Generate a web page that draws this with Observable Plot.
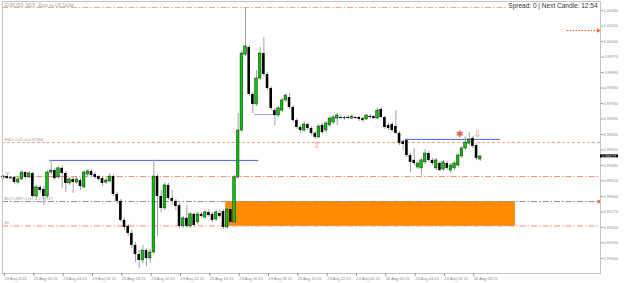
<!DOCTYPE html>
<html><head><meta charset="utf-8">
<script src="https://cdn.jsdelivr.net/npm/d3@7"></script>
<script src="https://cdn.jsdelivr.net/npm/@observablehq/plot@0.6"></script>
<style>
html,body{margin:0;padding:0;background:#fff;}
#chart svg{display:block;}
</style></head><body><div id="chart"></div>
<script>
// ---- Data (EURUSD M15 candles, index 0 = 23 Aug 00:15) ----
const open = [0.99426,0.99430,0.99421,0.99426,0.99403,0.99417,0.99448,0.99426,0.99444,0.99340,
0.99381,0.99372,0.99340,0.99448,0.99457,0.99426,0.99467,0.99444,0.99399,0.99417,
0.99403,0.99412,0.99381,0.99439,0.99453,0.99439,0.99430,0.99421,0.99403,0.99408,
0.99430,0.99349,0.99318,0.99232,0.99205,0.99173,0.99119,0.99078,0.99051,0.99096,
0.99060,0.99087,0.99430,0.99340,0.99286,0.99390,0.99331,0.99318,0.99299,0.99205,
0.99241,0.99205,0.99259,0.99223,0.99259,0.99245,0.99268,0.99259,0.99236,0.99263,
0.99272,0.99200,0.99281,0.99223,0.99426,0.99638,0.99981,1.00013,0.99801,0.99756,
0.99873,0.99986,0.99891,0.99828,0.99728,0.99706,0.99728,0.99774,0.99787,0.99742,
0.99683,0.99652,0.99638,0.99665,0.99647,0.99625,0.99607,0.99661,0.99638,0.99661,
0.99674,0.99692,0.99697,0.99697,0.99697,0.99692,0.99697,0.99697,0.99692,0.99688,
0.99701,0.99701,0.99692,0.99733,0.99697,0.99661,0.99665,0.99656,0.99625,0.99588,
0.99593,0.99525,0.99503,0.99471,0.99467,0.99494,0.99534,0.99503,0.99467,0.99489,
0.99462,0.99489,0.99457,0.99467,0.99480,0.99521,0.99557,0.99579,0.99602,0.99570,
0.99507];
const high = [0.99435,0.99439,0.99430,0.99430,0.99426,0.99457,0.99453,0.99453,0.99448,0.99390,
0.99390,0.99385,0.99457,0.99503,0.99467,0.99476,0.99476,0.99453,0.99426,0.99426,
0.99426,0.99421,0.99457,0.99462,0.99462,0.99448,0.99435,0.99426,0.99421,0.99444,
0.99439,0.99358,0.99327,0.99241,0.99214,0.99187,0.99132,0.99096,0.99119,0.99105,
0.99101,0.99503,0.99439,0.99367,0.99403,0.99399,0.99367,0.99327,0.99308,0.99250,
0.99299,0.99268,0.99268,0.99268,0.99268,0.99277,0.99281,0.99268,0.99277,0.99277,
0.99281,0.99290,0.99290,0.99435,0.99715,0.99999,1.00193,1.00022,0.99810,0.99909,
1.00013,1.00058,0.99900,0.99837,0.99738,0.99747,0.99783,0.99805,0.99805,0.99751,
0.99692,0.99661,0.99679,0.99674,0.99656,0.99634,0.99665,0.99670,0.99679,0.99701,
0.99706,0.99715,0.99706,0.99701,0.99706,0.99710,0.99701,0.99701,0.99697,0.99710,
0.99710,0.99706,0.99738,0.99742,0.99701,0.99670,0.99674,0.99728,0.99634,0.99597,
0.99602,0.99534,0.99557,0.99498,0.99512,0.99552,0.99543,0.99512,0.99512,0.99498,
0.99503,0.99498,0.99489,0.99498,0.99534,0.99566,0.99607,0.99629,0.99611,0.99579,
0.99525];
const low = [0.99417,0.99417,0.99417,0.99394,0.99394,0.99412,0.99417,0.99421,0.99331,0.99331,
0.99354,0.99299,0.99331,0.99435,0.99412,0.99417,0.99376,0.99358,0.99390,0.99354,
0.99394,0.99367,0.99376,0.99430,0.99426,0.99417,0.99408,0.99385,0.99394,0.99399,
0.99340,0.99304,0.99223,0.99187,0.99159,0.99105,0.99042,0.99015,0.99037,0.99024,
0.99037,0.99078,0.99159,0.99268,0.99277,0.99322,0.99299,0.99277,0.99196,0.99196,
0.99196,0.99196,0.99200,0.99214,0.99241,0.99236,0.99245,0.99223,0.99227,0.99241,
0.99191,0.99191,0.99209,0.99214,0.99417,0.99629,0.99972,0.99792,0.99715,0.99747,
0.99864,0.99882,0.99819,0.99728,0.99661,0.99697,0.99719,0.99765,0.99733,0.99674,
0.99643,0.99625,0.99629,0.99638,0.99616,0.99597,0.99602,0.99620,0.99629,0.99652,
0.99665,0.99661,0.99688,0.99683,0.99688,0.99688,0.99688,0.99679,0.99674,0.99683,
0.99692,0.99688,0.99688,0.99692,0.99643,0.99638,0.99629,0.99620,0.99570,0.99548,
0.99516,0.99448,0.99480,0.99462,0.99435,0.99485,0.99494,0.99480,0.99457,0.99453,
0.99453,0.99457,0.99444,0.99457,0.99471,0.99512,0.99548,0.99570,0.99557,0.99503,
0.99498];
const close = [0.99430,0.99421,0.99426,0.99403,0.99417,0.99448,0.99426,0.99444,0.99340,0.99381,
0.99367,0.99340,0.99448,0.99457,0.99421,0.99467,0.99444,0.99399,0.99417,0.99403,
0.99417,0.99385,0.99448,0.99453,0.99435,0.99426,0.99417,0.99399,0.99412,0.99430,
0.99349,0.99318,0.99232,0.99200,0.99173,0.99119,0.99078,0.99051,0.99096,0.99060,
0.99087,0.99430,0.99340,0.99286,0.99390,0.99331,0.99318,0.99295,0.99205,0.99241,
0.99205,0.99259,0.99209,0.99259,0.99250,0.99268,0.99254,0.99232,0.99268,0.99250,
0.99200,0.99281,0.99223,0.99426,0.99638,0.99986,1.00018,0.99801,0.99756,0.99873,
0.99986,0.99891,0.99828,0.99738,0.99706,0.99738,0.99774,0.99796,0.99742,0.99683,
0.99652,0.99638,0.99665,0.99647,0.99625,0.99607,0.99656,0.99629,0.99670,0.99692,
0.99697,0.99706,0.99697,0.99692,0.99697,0.99701,0.99697,0.99688,0.99683,0.99706,
0.99701,0.99692,0.99728,0.99697,0.99652,0.99647,0.99638,0.99625,0.99579,0.99575,
0.99525,0.99494,0.99489,0.99489,0.99503,0.99534,0.99503,0.99489,0.99503,0.99457,
0.99494,0.99467,0.99480,0.99489,0.99525,0.99557,0.99584,0.99597,0.99566,0.99512,
0.99521];

const timeTicks = [0,8,16,24,32,40,48,56,64,72,80,88,96,104,112,120,128];
const timeLabels = ["23 Aug 2022","23 Aug 02:15","23 Aug 04:15","23 Aug 06:15","23 Aug 08:15",
"23 Aug 10:15","23 Aug 12:15","23 Aug 14:15","23 Aug 16:15","23 Aug 18:15","23 Aug 20:15",
"23 Aug 22:15","24 Aug 00:15","24 Aug 02:15","24 Aug 04:15","24 Aug 06:15","24 Aug 08:15"];
const priceTicks = [1.00180,1.00110,1.00040,0.99970,0.99900,0.99830,0.99760,0.99690,0.99620,
0.99550,0.99480,0.99410,0.99340,0.99270,0.99200,0.99130,0.99060];

// horizontal levels
const dayHighLevel = 1.00194;
const sellLevel = 0.99584;
const tpLevel = 0.99430;
const buyLimitLevel = 0.99317;
const slLevel = 0.99207;
const alertLevel = 1.00090, alertFrom = 153.7, alertTo = 162.2;

const orderTexts = ["SELL 0.05 at 0.99584", "TP", "BUY LIMIT 0.05 at 0.99317", "SL"];
const orderPrices = [sellLevel, tpLevel, buyLimitLevel, slLevel];

// demand zone
const zoneFrom = 60.6, zoneTo = 139.6, zoneTop = 0.99317, zoneBottom = 0.99205;

// blue horizontal segments
const blueFrom = [12.6, 68.5, 109.6];
const blueTo = [69.6, 74.2, 135.5];
const bluePrice = [0.99503, 0.99710, 0.99598];

// markers
const markerGlyph = ["\u21E7", "\u21E9", "\u2731"];
const markerX = [85.5, 129.3, 124.4];
const markerPrice = [0.99570, 0.99624, 0.99620];

const titleText = "EURUSD, M15:  Euro vs US Dollar";
const spreadText = "Spread: 0 | Next Candle: 12:54";
const lastPrice = close[close.length - 1];

const xDomain = [-0.273, 162.8];
const yDomain = [0.98992, 1.00221];

const candles = open.map((o, i) => ({i, o, h: high[i], l: low[i], c: close[i]}));
const bulls = candles.filter(d => d.c > d.o);
const bears = candles.filter(d => d.c < d.o);
const dojis = candles.filter(d => d.c === d.o);
const blueSegs = bluePrice.map((p, k) => ({p, a: blueFrom[k], b: blueTo[k]}));
const markers = markerGlyph.map((g, k) => ({g, x: markerX[k], y: markerPrice[k]}));
const orders = orderTexts.map((t, k) => ({t, y: orderPrices[k]}));

const dashDot = "6,2,1.5,2";
const chart = Plot.plot({
  width: 625, height: 283,
  marginLeft: 2, marginRight: 25, marginTop: 1, marginBottom: 10,
  x: {type: "linear", domain: xDomain},
  y: {domain: yDomain},
  style: {fontFamily: "'Liberation Sans', Arial, sans-serif", background: "#fff", color: "#808080", overflow: "visible"},
  marks: [
    Plot.rect([0], {x1: () => zoneFrom, x2: () => zoneTo, y1: () => zoneBottom, y2: () => zoneTop, fill: "#ff8c00"}),
    Plot.ruleY([dayHighLevel], {stroke: "#f7a77f", strokeDasharray: dashDot, strokeWidth: 1}),
    Plot.ruleY([sellLevel], {stroke: "#eea88c", strokeDasharray: "3,2", strokeWidth: 1}),
    Plot.ruleY([tpLevel], {stroke: "#f0906a", strokeDasharray: dashDot, strokeWidth: 1}),
    Plot.ruleY([buyLimitLevel], {stroke: "#8c8c8c", strokeDasharray: dashDot, strokeWidth: 1}),
    Plot.ruleY([slLevel], {stroke: "#f0906a", strokeDasharray: dashDot, strokeWidth: 1}),
    Plot.ruleY([alertLevel], {x1: () => alertFrom, x2: () => alertTo, stroke: "#ff5a1f", strokeDasharray: "1.5,1.5"}),
    Plot.dot([alertLevel], {x: () => alertTo, y: d => d, symbol: "triangle", r: 1.6, fill: "#ff5a1f", stroke: null, rotate: 90}),
    Plot.dot([buyLimitLevel], {x: () => xDomain[1] - 0.4, y: d => d, symbol: "triangle", r: 1.6, fill: "#ff5a1f", stroke: null, rotate: 90}),
    Plot.ruleY(blueSegs, {y: "p", x1: "a", x2: "b", stroke: (d, k) => k === 1 ? "#9aa3f0" : "#4a62e6", strokeWidth: 1}),
    Plot.ruleX(candles, {x: "i", y1: "l", y2: "h", stroke: "#a0a0a0", strokeWidth: 1}),
    Plot.rect(bulls, {x1: d => d.i - 0.35, x2: d => d.i + 0.35, y1: "o", y2: "c", fill: "#00c800", stroke: "#1a1a1a", strokeWidth: 0.5}),
    Plot.rect(bears, {x1: d => d.i - 0.35, x2: d => d.i + 0.35, y1: "o", y2: "c", fill: "#000"}),
    Plot.ruleY(dojis, {y: "c", x1: d => d.i - 0.4, x2: d => d.i + 0.4, stroke: "#000", strokeWidth: 1}),
    Plot.text(markers, {x: "x", y: "y", text: "g", fontSize: 9, fill: (d, k) => k === 2 ? "#ee5a4a" : "#f28a66", fontFamily: "DejaVu Sans"}),
    Plot.text(orders, {x: () => xDomain[0], y: "y", text: "t", dx: 2, dy: -3, textAnchor: "start", fontSize: 4, fill: "#9a9a9a"}),
    Plot.text([titleText], {frameAnchor: "top-left", dx: 2, dy: 2, lineAnchor: "top", textAnchor: "start", fontSize: 4.5, fill: "#a0a0a0"}),
    Plot.text([spreadText], {frameAnchor: "top-right", dx: -3, dy: 2, lineAnchor: "top", textAnchor: "end", fontSize: 6.5, fill: "#333", stroke: "#fff", strokeWidth: 3, paintOrder: "stroke"}),
    Plot.frame({stroke: "#c4c4c4"}),
    Plot.axisY(priceTicks, {anchor: "right", tickSize: 2, tickPadding: 1, fontSize: 4, tickFormat: d => d.toFixed(5), stroke: "#999", fill: "#8a8a8a"}),
    Plot.axisX(timeTicks, {anchor: "bottom", tickSize: 3, tickPadding: 0.5, fontSize: 4, textAnchor: "start", dx: 1, tickFormat: d => timeLabels[timeTicks.indexOf(d)], stroke: "#999", fill: "#8a8a8a"}),
    Plot.rect([lastPrice], {x1: () => xDomain[1], x2: () => xDomain[1] + 4.9, y1: d => d - 0.00007, y2: d => d + 0.00007, fill: "#000"}),
    Plot.text([lastPrice], {x: () => xDomain[1], y: d => d, text: d => d.toFixed(5), dx: 1.5, textAnchor: "start", fontSize: 4, fill: "#fff"})
  ]
});
document.getElementById("chart").append(chart);
</script>
</body></html>
